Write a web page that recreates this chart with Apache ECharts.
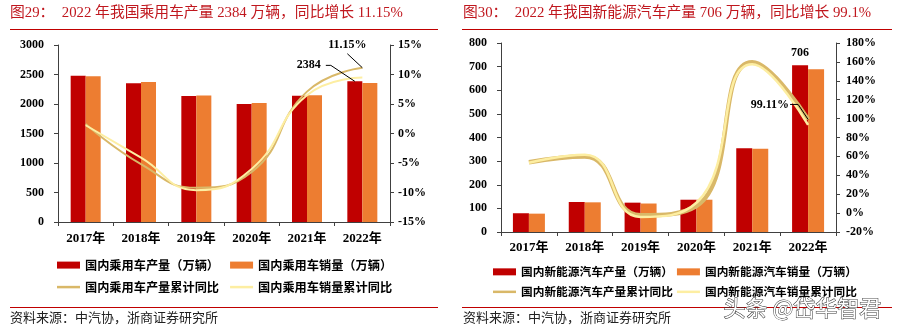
<!DOCTYPE html>
<html>
<head>
<meta charset="utf-8">
<script src="https://cdn.jsdelivr.net/npm/echarts/dist/echarts.min.js"></script>
<style>
  html, body { margin: 0; padding: 0; background: #fff; }
  #chart { width: 899px; height: 330px; }
</style>
</head>
<body>
<div id="chart"></div>
<script>
// Categories
const years = ['2017年', '2018年', '2019年', '2020年', '2021年', '2022年'];

// Passenger vehicles (万辆) and cumulative YoY (%)
const pvOutput = [2480.7, 2352.9, 2136.0, 1999.4, 2140.8, 2383.6];
const pvSales = [2471.8, 2371.0, 2144.4, 2017.8, 2148.2, 2356.3];
const pvOutputYoY = [1.6, -5.2, -9.2, -6.5, 7.1, 11.15];
const pvSalesYoY = [1.4, -4.1, -9.6, -6.0, 6.5, 9.5];

// New energy vehicles (万辆) and cumulative YoY (%)
const nevOutput = [79.4, 127.0, 124.2, 136.6, 354.5, 705.8];
const nevSales = [77.7, 125.6, 120.6, 136.7, 352.1, 688.7];
const nevOutputYoY = [53.8, 59.9, -2.3, 7.5, 159.5, 99.11];
const nevSalesYoY = [53.3, 61.7, -4.0, 10.9, 157.5, 93.4];

// Series names
const pvNames = ['国内乘用车产量（万辆）', '国内乘用车销量（万辆）', '国内乘用车产量累计同比', '国内乘用车销量累计同比'];
const nevNames = ['国内新能源汽车产量（万辆）', '国内新能源汽车销量（万辆）', '国内新能源汽车产量累计同比', '国内新能源汽车销量累计同比'];

// Text
const titleLeft = '图29：  2022 年我国乘用车产量 2384 万辆，同比增长 11.15%';
const titleRight = '图30：  2022 年我国新能源汽车产量 706 万辆，同比增长 99.1%';
const sourceText = '资料来源：中汽协，浙商证券研究所';
const watermark = '头条 @岱华智君';

const SERIF = "'Liberation Serif','Times New Roman','Noto Sans CJK SC',serif";
const CJK = "'Noto Sans CJK SC',sans-serif";
const RED = '#c00000';
const ORANGE = '#ed7d31';
const TAN = '#d9b868';
const PALE = '#fdeea2';
const TITLE_RED = '#c0171e';
const AXIS = '#404040';
const BAR_W_L = 15;
const BAR_W_R = 16;

const chart = echarts.init(document.getElementById('chart'), null, { renderer: 'canvas' });

function catAxis(gridIndex, margin) {
  return {
    type: 'category', gridIndex, data: years, boundaryGap: true,
    axisLine: { show: true, onZero: false, lineStyle: { color: AXIS, width: 1 } },
    axisTick: { show: true, alignWithLabel: false, length: 4, lineStyle: { color: AXIS } },
    axisLabel: { color: '#000', fontFamily: SERIF, fontWeight: 'bold', fontSize: 13, margin },
    splitLine: { show: false }
  };
}

function valAxis(gridIndex, position, min, max, interval, pct, margin) {
  return {
    type: 'value', gridIndex, position, min, max, interval,
    axisLine: { show: true, lineStyle: { color: AXIS, width: 1 } },
    axisTick: { show: true, inside: false, length: 4, lineStyle: { color: AXIS } },
    axisLabel: {
      color: '#000', fontFamily: SERIF, fontWeight: 'bold', fontSize: 12, margin,
      formatter: pct ? (v => v + '%') : (v => String(v))
    },
    splitLine: { show: false }
  };
}

function barSeries(name, data, xi, yi, color, w) {
  return {
    name, type: 'bar', xAxisIndex: xi, yAxisIndex: yi, data,
    barWidth: w, barGap: '0%', itemStyle: { color }, z: 2
  };
}

function lineSeries(name, data, xi, yi, color, width, z) {
  return {
    name, type: 'line', xAxisIndex: xi, yAxisIndex: yi, data,
    smooth: true, symbol: 'none', showSymbol: false,
    itemStyle: { color }, lineStyle: { color, width }, z
  };
}

function legendRow(data, left, top, gap, h, size) {
  return {
    data, left, top, orient: 'horizontal', itemGap: gap, padding: 0,
    icon: 'rect', itemWidth: 23, itemHeight: h,
    textStyle: { color: '#000', fontFamily: CJK, fontWeight: 'bold', fontSize: size },
    selectedMode: false
  };
}

const option = {
  animation: false,
  backgroundColor: '#fff',
  grid: [
    { left: 58, top: 45, width: 332, height: 177 },
    { left: 501, top: 43, width: 335, height: 189 }
  ],
  xAxis: [catAxis(0, 10), catAxis(1, 9)],
  yAxis: [
    valAxis(0, 'left', 0, 3000, 500, false, 14),
    valAxis(0, 'right', -15, 15, 5, true, 8),
    valAxis(1, 'left', 0, 800, 100, false, 14),
    valAxis(1, 'right', -20, 180, 20, true, 10)
  ],
  legend: [
    legendRow([pvNames[0], pvNames[1]], 57, 259, 11, 7, 12.2),
    legendRow([pvNames[2], pvNames[3]], 57, 281, 11, 2.5, 12.2),
    legendRow([nevNames[0], nevNames[1]], 493, 266, 4, 7, 11.7),
    legendRow([nevNames[2], nevNames[3]], 493, 286, 4, 2.5, 11.7)
  ],
  series: [
    barSeries(pvNames[0], pvOutput, 0, 0, RED, BAR_W_L),
    barSeries(pvNames[1], pvSales, 0, 0, ORANGE, BAR_W_L),
    lineSeries(pvNames[2], pvOutputYoY, 0, 1, TAN, 2, 4),
    lineSeries(pvNames[3], pvSalesYoY, 0, 1, PALE, 2, 5),
    barSeries(nevNames[0], nevOutput, 1, 2, RED, BAR_W_R),
    barSeries(nevNames[1], nevSales, 1, 2, ORANGE, BAR_W_R),
    lineSeries(nevNames[2], nevOutputYoY, 1, 3, TAN, 4.5, 4),
    lineSeries(nevNames[3], nevSalesYoY, 1, 3, PALE, 2.5, 5)
  ],
  graphic: [
    { type: 'text', left: 10, top: 6, style: { text: titleLeft, fill: TITLE_RED, font: '14.8px ' + SERIF } },
    { type: 'text', left: 463, top: 6, style: { text: titleRight, fill: TITLE_RED, font: '14.8px ' + SERIF } },
    { type: 'line', shape: { x1: 10, y1: 29.5, x2: 438, y2: 29.5 }, style: { stroke: RED, lineWidth: 1 } },
    { type: 'line', shape: { x1: 462, y1: 29.5, x2: 892, y2: 29.5 }, style: { stroke: RED, lineWidth: 1 } },
    { type: 'line', shape: { x1: 10, y1: 307.5, x2: 438, y2: 307.5 }, style: { stroke: RED, lineWidth: 1 } },
    { type: 'line', shape: { x1: 462, y1: 307.5, x2: 892, y2: 307.5 }, style: { stroke: RED, lineWidth: 1 } },
    { type: 'text', left: 10, top: 311, style: { text: sourceText, fill: '#222', font: '13px ' + CJK } },
    { type: 'text', left: 463, top: 311, style: { text: sourceText, fill: '#222', font: '13px ' + CJK } }
  ]
};

chart.setOption(option);

// Value annotations placed from the axes' own scales
const lastIdx = years.length - 1;
const labelFont = 'bold 12px ' + SERIF;

const pvBar = chart.convertToPixel({ xAxisIndex: 0, yAxisIndex: 0 }, [lastIdx, pvOutput[lastIdx]]);
const pvBarTop = [pvBar[0] - BAR_W_L / 2, pvBar[1]];
const pvPt = chart.convertToPixel({ xAxisIndex: 0, yAxisIndex: 1 }, [lastIdx, pvOutputYoY[lastIdx]]);
const nevBar = chart.convertToPixel({ xAxisIndex: 1, yAxisIndex: 2 }, [lastIdx, nevOutput[lastIdx]]);
const nevBarTop = [nevBar[0] - BAR_W_R / 2, nevBar[1]];
const nevPt = chart.convertToPixel({ xAxisIndex: 1, yAxisIndex: 3 }, [lastIdx, nevOutputYoY[lastIdx]]);

const leader = { stroke: '#000', lineWidth: 1, fill: null };

chart.setOption({
  graphic: option.graphic.concat([
    // 2384 with leader to the bar top
    { type: 'text', x: pvBarTop[0] - 34, y: pvBarTop[1] - 16, z: 10,
      style: { text: String(Math.round(pvOutput[lastIdx])), font: labelFont, fill: '#000', align: 'right', verticalAlign: 'middle' } },
    { type: 'polyline', z: 10, shape: { points: [[pvBarTop[0] - 29, pvBarTop[1] - 16], [pvBarTop[0] - 24, pvBarTop[1] - 16], [pvBarTop[0], pvBarTop[1]]] }, style: leader },
    // 11.15% with leader to the line point
    { type: 'text', x: pvPt[0] - 15, y: pvPt[1] - 23, z: 10,
      style: { text: pvOutputYoY[lastIdx] + '%', font: labelFont, fill: '#000', align: 'center', verticalAlign: 'middle' } },
    { type: 'polyline', z: 10, shape: { points: [[pvPt[0] - 15, pvPt[1] - 14], [pvPt[0], pvPt[1]]] }, style: leader },
    // 706 above the bar
    { type: 'text', x: nevBarTop[0], y: nevBarTop[1] - 12, z: 10,
      style: { text: String(Math.round(nevOutput[lastIdx])), font: labelFont, fill: '#000', align: 'center', verticalAlign: 'middle' } },
    // 99.11% with leader to the line point
    { type: 'text', x: nevPt[0] - 19, y: nevPt[1] - 15, z: 10,
      style: { text: nevOutputYoY[lastIdx] + '%', font: labelFont, fill: '#000', align: 'right', verticalAlign: 'middle' } },
    { type: 'polyline', z: 10, shape: { points: [[nevPt[0] - 18, nevPt[1] - 15], [nevPt[0] - 10, nevPt[1] - 15], [nevPt[0], nevPt[1]]] }, style: leader },
    // watermark
    { type: 'text', left: 723, top: 296, z: 20,
      style: { text: watermark, font: '22px ' + CJK, fill: '#fff', stroke: '#333', lineWidth: 1 } }
  ])
});
</script>
</body>
</html>
